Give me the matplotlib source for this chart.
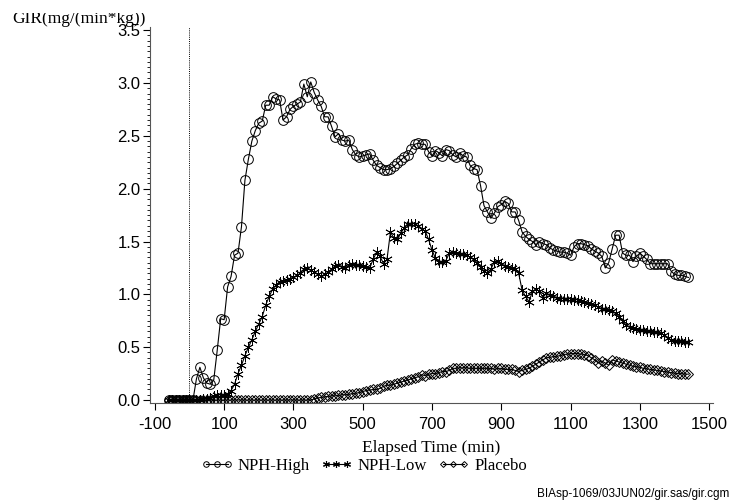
"""GIR profiles by treatment (clamp study)."""

import matplotlib
matplotlib.use("Agg")
import matplotlib.pyplot as plt
from matplotlib.lines import Line2D
from matplotlib.transforms import Bbox, TransformedBbox
from matplotlib.ticker import MultipleLocator, FormatStrFormatter

plt.rcParams["axes.unicode_minus"] = False

# elapsed time (min), sampling grid
time_min = [
    -60, -50, -40, -30, -20, -10, 0, 10, 20, 30,
    40, 50, 60, 70, 80, 90, 100, 110, 120, 130,
    140, 150, 160, 170, 180, 190, 200, 210, 220, 230,
    240, 250, 260, 270, 280, 290, 300, 310, 320, 330,
    340, 350, 360, 370, 380, 390, 400, 410, 420, 430,
    440, 450, 460, 470, 480, 490, 500, 510, 520, 530,
    540, 550, 560, 570, 580, 590, 600, 610, 620, 630,
    640, 650, 660, 670, 680, 690, 700, 710, 720, 730,
    740, 750, 760, 770, 780, 790, 800, 810, 820, 830,
    840, 850, 860, 870, 880, 890, 900, 910, 920, 930,
    940, 950, 960, 970, 980, 990, 1000, 1010, 1020, 1030,
    1040, 1050, 1060, 1070, 1080, 1090, 1100, 1110, 1120, 1130,
    1140, 1150, 1160, 1170, 1180, 1190, 1200, 1210, 1220, 1230,
    1240, 1250, 1260, 1270, 1280, 1290, 1300, 1310, 1320, 1330,
    1340, 1350, 1360, 1370, 1380, 1390, 1400, 1410, 1420, 1430,
    1440,
]

nph_high = [
    0, 0, 0, 0, 0, 0, 0, 0, 0.20, 0.31,
    0.21, 0.16, 0.15, 0.19, 0.47, 0.77, 0.76, 1.07, 1.17, 1.37,
    1.39, 1.64, 2.08, 2.28, 2.45, 2.55, 2.62, 2.64, 2.79, 2.79,
    2.87, 2.85, 2.84, 2.65, 2.68, 2.75, 2.78, 2.80, 2.82, 2.99,
    2.87, 3.01, 2.91, 2.84, 2.78, 2.68, 2.68, 2.59, 2.49, 2.52,
    2.46, 2.45, 2.46, 2.37, 2.32, 2.30, 2.31, 2.32, 2.33, 2.27,
    2.22, 2.20, 2.18, 2.18, 2.19, 2.21, 2.24, 2.27, 2.30, 2.32,
    2.38, 2.42, 2.43, 2.42, 2.42, 2.35, 2.31, 2.36, 2.34, 2.31,
    2.37, 2.36, 2.32, 2.30, 2.34, 2.31, 2.30, 2.22, 2.19, 2.18,
    2.03, 1.84, 1.78, 1.72, 1.77, 1.83, 1.85, 1.88, 1.86, 1.78,
    1.78, 1.70, 1.59, 1.55, 1.52, 1.50, 1.47, 1.50, 1.48, 1.47,
    1.44, 1.42, 1.41, 1.40, 1.40, 1.39, 1.37, 1.45, 1.48, 1.48,
    1.47, 1.46, 1.43, 1.41, 1.39, 1.36, 1.25, 1.30, 1.43, 1.56,
    1.56, 1.39, 1.37, 1.37, 1.31, 1.36, 1.39, 1.36, 1.33, 1.29,
    1.29, 1.29, 1.29, 1.29, 1.29, 1.22, 1.19, 1.18, 1.18, 1.17,
    1.16,
]

nph_low = [
    0, 0, 0, 0, 0, 0, 0, 0, 0, 0,
    0.01, 0.01, 0.02, 0.04, 0.05, 0.05, 0.05, 0.06, 0.09, 0.15,
    0.25, 0.33, 0.42, 0.50, 0.57, 0.65, 0.72, 0.79, 0.90, 0.98,
    1.05, 1.09, 1.12, 1.13, 1.14, 1.15, 1.16, 1.18, 1.20, 1.24,
    1.25, 1.23, 1.21, 1.19, 1.17, 1.19, 1.21, 1.24, 1.27, 1.28,
    1.26, 1.25, 1.28, 1.29, 1.28, 1.28, 1.27, 1.26, 1.25, 1.33,
    1.40, 1.36, 1.29, 1.33, 1.59, 1.53, 1.52, 1.58, 1.63, 1.67,
    1.67, 1.67, 1.65, 1.62, 1.60, 1.52, 1.42, 1.34, 1.31, 1.31,
    1.32, 1.39, 1.40, 1.39, 1.38, 1.38, 1.37, 1.35, 1.33, 1.30,
    1.26, 1.22, 1.20, 1.24, 1.31, 1.32, 1.29, 1.27, 1.26, 1.25,
    1.24, 1.20, 1.04, 0.98, 0.93, 1.03, 1.05, 1.03, 0.97, 1.01,
    0.99, 0.98, 0.97, 0.96, 0.96, 0.96, 0.96, 0.95, 0.95, 0.94,
    0.93, 0.92, 0.91, 0.90, 0.88, 0.86, 0.86, 0.85, 0.84, 0.82,
    0.79, 0.75, 0.71, 0.69, 0.68, 0.67, 0.66, 0.66, 0.655, 0.65,
    0.64, 0.64, 0.63, 0.615, 0.59, 0.57, 0.56, 0.56, 0.56, 0.55,
    0.55,
]

placebo = [
    0, 0, 0, 0, 0, 0, 0, 0, 0, 0,
    0, 0, 0, 0, 0, 0, 0, 0, 0, 0,
    0, 0, 0, 0, 0, 0, 0, 0, 0, 0,
    0, 0, 0, 0, 0, 0, 0, 0, 0, 0,
    0, 0, 0.01, 0.02, 0.025, 0.03, 0.035, 0.04, 0.04, 0.045,
    0.05, 0.05, 0.055, 0.06, 0.065, 0.07, 0.08, 0.09, 0.095, 0.10,
    0.10, 0.11, 0.13, 0.14, 0.14, 0.15, 0.16, 0.17, 0.18, 0.19,
    0.20, 0.21, 0.22, 0.24, 0.23, 0.245, 0.25, 0.25, 0.26, 0.27,
    0.27, 0.28, 0.30, 0.30, 0.305, 0.305, 0.305, 0.30, 0.30, 0.30,
    0.30, 0.30, 0.30, 0.30, 0.29, 0.30, 0.30, 0.29, 0.29, 0.29,
    0.28, 0.27, 0.28, 0.29, 0.30, 0.32, 0.34, 0.36, 0.38, 0.40,
    0.405, 0.41, 0.415, 0.42, 0.43, 0.435, 0.44, 0.44, 0.44, 0.435,
    0.43, 0.42, 0.40, 0.38, 0.35, 0.37, 0.35, 0.33, 0.38, 0.37,
    0.36, 0.35, 0.34, 0.33, 0.32, 0.315, 0.31, 0.30, 0.295, 0.29,
    0.285, 0.28, 0.275, 0.27, 0.265, 0.26, 0.255, 0.25, 0.25, 0.245,
    0.245,
]

x_ticks = [-100, 100, 300, 500, 700, 900, 1100, 1300, 1500]
y_ticks = [0.0, 0.5, 1.0, 1.5, 2.0, 2.5, 3.0, 3.5]

assert len(time_min) == len(nph_high) == len(nph_low) == len(placebo)

SERIF = "Liberation Serif"
SANS = "Liberation Sans"
STAR = (6, 2, 0)

fig = plt.figure(figsize=(7.31, 5.0), dpi=100)
ax = fig.add_axes([150 / 731, 97 / 500, 563 / 731, 376 / 500])

ax.plot(time_min, placebo, color="black", lw=0.8, marker="D", ms=5,
        mfc="none", mec="black", mew=0.7)
ax.plot(time_min, nph_low, color="black", lw=0.8, marker=STAR, ms=7.5,
        mec="black", mew=0.6)
ax.plot(time_min, nph_high, color="black", lw=0.8, marker="o", ms=7,
        mfc="none", mec="black", mew=0.7)
ax.axvline(0, color="black", lw=0.7, ls=(0, (1, 1.2)))

ax.set_xlim(-114, 1511)
ax.set_ylim(-0.028, 3.53)
ax.set_xticks(x_ticks)
ax.set_yticks(y_ticks)
ax.yaxis.set_minor_locator(MultipleLocator(0.05))
ax.yaxis.set_major_formatter(FormatStrFormatter("%.1f"))
ax.tick_params(which="major", length=5, width=0.8, labelsize=12, pad=2)
ax.tick_params(axis="x", which="major", pad=5)
ax.tick_params(which="minor", length=2.5, width=0.6)
for lbl in ax.get_xticklabels() + ax.get_yticklabels():
    lbl.set_fontfamily(SANS)
for side in ("top", "right"):
    ax.spines[side].set_visible(False)
for side in ("left", "bottom"):
    ax.spines[side].set_linewidth(0.8)
    ax.spines[side].set_color("#555555")

ax.set_xlabel("Elapsed Time (min)", fontfamily=SERIF, fontsize=12.5, labelpad=6)

# y label sits above the axis at top-left, its top edge clipped as in the source
ylab = fig.text(146 / 731, 1 - 23 / 500, "GIR(mg/(min*kg))", ha="right",
                va="baseline", fontfamily=SERIF, fontsize=12.5)
ylab.set_clip_on(True)
ylab.set_clip_box(TransformedBbox(Bbox([[0, 0], [1, 1 - 13 / 500]]),
                                  fig.transFigure))

handles = [
    Line2D([], [], color="black", lw=0.8, marker="o", ms=4, mfc="none", mew=0.7),
    Line2D([], [], color="black", lw=0.8, marker=STAR, ms=5, mew=0.8),
    Line2D([], [], color="black", lw=0.8, marker="D", ms=3, mfc="none", mew=0.7),
]
fig.legend(handles, ["NPH-High", "NPH-Low", "Placebo"], loc="center",
           bbox_to_anchor=(364 / 731, 1 - 466 / 500), ncol=3, frameon=False,
           numpoints=3, handlelength=1.9, handletextpad=0.3, columnspacing=0.65,
           prop={"family": SERIF, "size": 12})

fig.text(729 / 731, 1 - 497 / 500, "BIAsp-1069/03JUN02/gir.sas/gir.cgm",
         ha="right", va="baseline", fontfamily=SANS, fontsize=8.5)

fig.savefig("out.png", dpi=100)
plt.close(fig)
